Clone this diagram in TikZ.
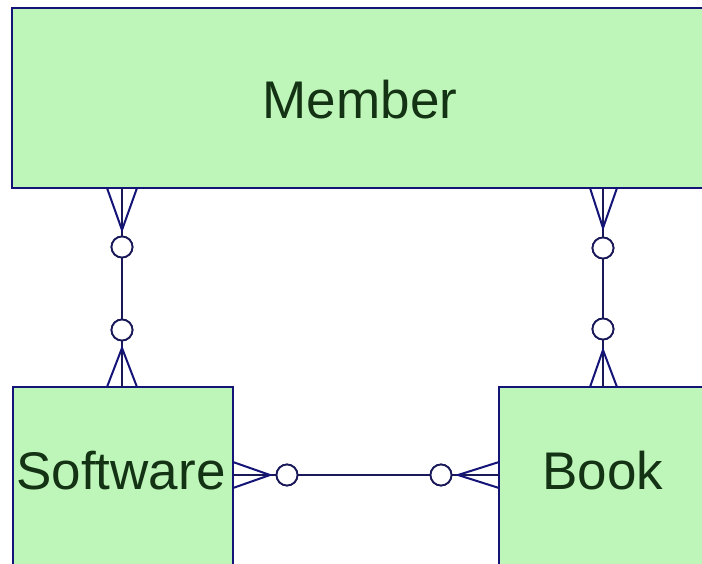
\documentclass[tikz,border=0pt]{standalone}
\usepackage{fontspec}
\setmainfont{Liberation Sans}
\definecolor{boxfill}{RGB}{190,246,185}
\definecolor{boxline}{RGB}{20,20,120}
\definecolor{relline}{RGB}{25,25,90}
\definecolor{labtext}{RGB}{20,50,20}
\begin{document}
\begin{tikzpicture}[x=1pt,y=-1pt,
  entity/.style={draw=boxline,line width=2.5pt,fill=boxfill,inner sep=0pt},
  lab/.style={inner sep=0pt,text=labtext,font=\fontsize{53}{60}\selectfont},
  optcircle/.style={circle,draw=relline,fill=white,line width=1.8pt,minimum size=21pt,inner sep=0pt},
  rel/.style={draw=relline,line width=2pt},
  foot/.style={draw=boxline,line width=2pt}]
\useasboundingbox[fill=white] (0,0) rectangle (702,563);
% entities
\node[entity,minimum width=696pt,minimum height=180pt] (member) at (360,98) {};
\node[entity,minimum width=220pt,minimum height=200pt] (software) at (123,487) {};
\node[entity,minimum width=220pt,minimum height=200pt] (book) at (609,487) {};
\node[lab] (memberlab) at (360,100) {Member};
\node[lab] (softwarelab) at (121,471) {Software};
\node[lab] (booklab) at (603,471) {Book};
% left vertical relationship
\coordinate (l1) at (122,188);
\coordinate (l1a) at (107,188);
\coordinate (l1b) at (137,188);
\coordinate (l1c) at (122,230);
\node[optcircle] (lc1) at (122,247) {};
\node[optcircle] (lc2) at (122,330) {};
\coordinate (l2c) at (122,348);
\coordinate (l2) at (122,387);
\coordinate (l2a) at (107,387);
\coordinate (l2b) at (137,387);
\draw[rel] (l1) -- (lc1) -- (lc2) -- (l2);
\draw[foot] (l1a) -- (l1c) -- (l1b);
\draw[foot] (l2a) -- (l2c) -- (l2b);
% right vertical relationship
\coordinate (r1) at (603,188);
\coordinate (r1a) at (590,188);
\coordinate (r1b) at (617,188);
\coordinate (r1c) at (603,228);
\node[optcircle] (rc1) at (603,248) {};
\node[optcircle] (rc2) at (603,329) {};
\coordinate (r2c) at (603,350);
\coordinate (r2) at (603,387);
\coordinate (r2a) at (590,387);
\coordinate (r2b) at (617,387);
\draw[rel] (r1) -- (rc1) -- (rc2) -- (r2);
\draw[foot] (r1a) -- (r1c) -- (r1b);
\draw[foot] (r2a) -- (r2c) -- (r2b);
% horizontal relationship
\coordinate (h1) at (233,475);
\coordinate (h1a) at (233,462);
\coordinate (h1b) at (233,488);
\coordinate (h1c) at (270,475);
\node[optcircle] (hc1) at (287,475) {};
\node[optcircle] (hc2) at (441,475) {};
\coordinate (h2c) at (458,475);
\coordinate (h2) at (499,475);
\coordinate (h2a) at (499,462);
\coordinate (h2b) at (499,488);
\draw[rel] (h1) -- (hc1) -- (hc2) -- (h2);
\draw[foot] (h1a) -- (h1c) -- (h1b);
\draw[foot] (h2a) -- (h2c) -- (h2b);
% redraw circles on top
\node[optcircle] at (lc1) {};
\node[optcircle] at (lc2) {};
\node[optcircle] at (rc1) {};
\node[optcircle] at (rc2) {};
\node[optcircle] at (hc1) {};
\node[optcircle] at (hc2) {};
\end{tikzpicture}
\end{document}
